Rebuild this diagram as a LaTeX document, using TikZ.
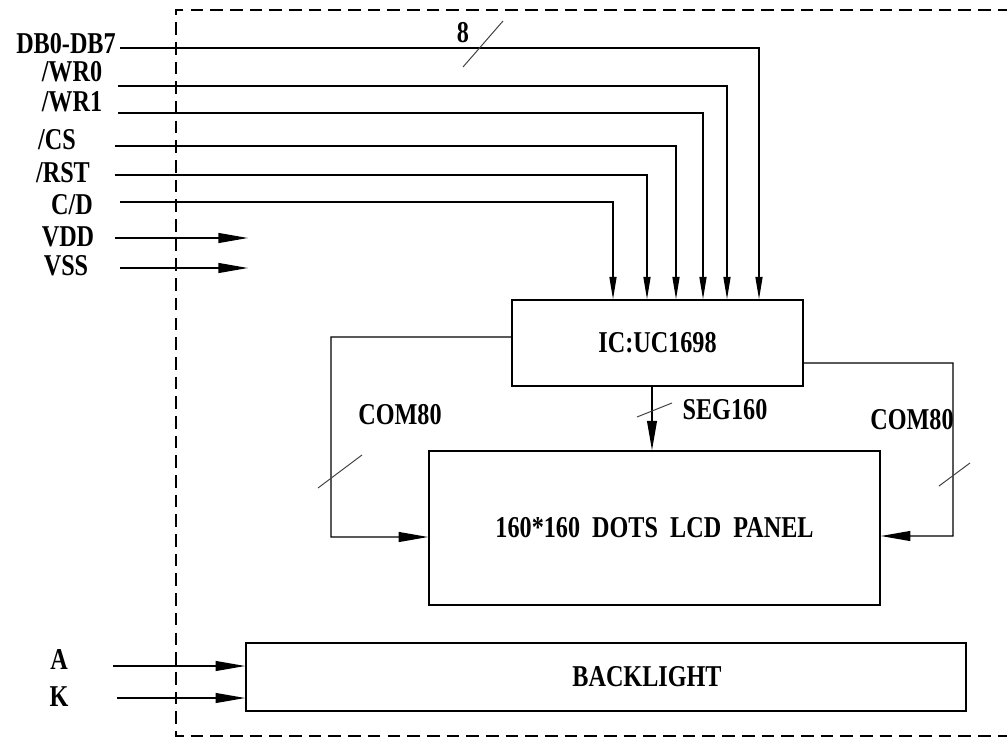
\documentclass[tikz,border=0pt]{standalone}
\usepackage{fontspec}
\newfontfamily\diagfont{Liberation Serif}[FakeStretch=0.8]
\usetikzlibrary{arrows.meta,positioning}

\tikzset{
  box/.style={draw, line width=1pt, inner sep=0pt},
  lbl/.style={font=\diagfont\bfseries\fontsize{21.5}{23}\selectfont, inner sep=0pt, text height=14pt, text depth=0pt},
  wire/.style={line width=1pt},
  sig/.style={wire, -{Triangle[length=16pt,width=5pt]}},
  pwr/.style={wire, -{Triangle[length=21pt,width=7pt]}},
  bus/.style={line width=0.7pt, black!75},
}

\begin{document}
\begin{tikzpicture}[x=0.025cm, y=-0.025cm]
    \useasboundingbox (0,0) rectangle (1007,737);

        % Module outline
        \draw[line width=0.9pt, dash pattern=on 9pt off 5pt] (1030,10) -- (176,10) -- (176,736) -- (1030,736);

        % Blocks
        \node[box, lbl, minimum width=7.275cm, minimum height=2.15cm] (ic) at (657.5,343) {IC:UC1698};
        \node[box, lbl, minimum width=11.275cm, minimum height=3.85cm] (lcd) at (654.5,528) {160*160\ \ DOTS\ \ LCD\ \ PANEL};
        \node[box, minimum width=18cm, minimum height=1.7cm] (bl) at (606,677) {};
        \node[lbl] (bl_text) at (647,677) {BACKLIGHT};

        % Pin labels
        \node[lbl] (l_db) at (66,44) {DB0-DB7};
        \node[lbl] (l_wr0) at (72,72) {/WR0};
        \node[lbl] (l_wr1) at (72,102) {/WR1};
        \node[lbl] (l_cs) at (57,140) {/CS};
        \node[lbl] (l_rst) at (63,173) {/RST};
        \node[lbl] (l_cd) at (72,205) {C/D};
        \node[lbl] (l_vdd) at (68,237) {VDD};
        \node[lbl] (l_vss) at (66,266) {VSS};
        \node[lbl] (l_a) at (59,660) {A};
        \node[lbl] (l_k) at (59,697) {K};

        % Bus widths
        \node[lbl] (w_db) at (463,33) {8};
        \node[lbl] (w_coml) at (400,415) {COM80};
        \node[lbl] (w_seg) at (725,410) {SEG160};
        \node[lbl] (w_comr) at (912,420) {COM80};

        % Wire ends and bends
        \coordinate (db) at (120,48);
        \coordinate (wr0) at (118,86);
        \coordinate (wr1) at (118,113);
        \coordinate (cs) at (115,146);
        \coordinate (rst) at (115,175);
        \coordinate (cd) at (120,202);
        \coordinate (vdd) at (115,238);
        \coordinate (vss) at (120,268);
        \coordinate (vdd_end) at (248,238);
        \coordinate (vss_end) at (248,268);
        \coordinate (a) at (113,666);
        \coordinate (k) at (117,698);

        \coordinate (t_db) at (759,48);
        \coordinate (t_wr0) at (727,86);
        \coordinate (t_wr1) at (703,113);
        \coordinate (t_cs) at (676,146);
        \coordinate (t_rst) at (647,175);
        \coordinate (t_cd) at (613,202);

        \coordinate (bend_l) at (331,337);
        \coordinate (bend_r) at (953,363);

        % Interface lines into the controller
        \draw[sig] (db) -- (t_db) -- (t_db |- ic.north);
        \draw[sig] (wr0) -- (t_wr0) -- (t_wr0 |- ic.north);
        \draw[sig] (wr1) -- (t_wr1) -- (t_wr1 |- ic.north);
        \draw[sig] (cs) -- (t_cs) -- (t_cs |- ic.north);
        \draw[sig] (rst) -- (t_rst) -- (t_rst |- ic.north);
        \draw[sig] (cd) -- (t_cd) -- (t_cd |- ic.north);

        % Supply
        \draw[pwr] (vdd) -- (vdd_end);
        \draw[pwr] (vss) -- (vss_end);

        % Controller to panel
        \draw[pwr] ([yshift=0.15cm]ic.west) -- (bend_l) |- ([yshift=-0.225cm]lcd.west);
        \draw[pwr] ([yshift=-0.5cm]ic.east) -- (bend_r) |- ([yshift=-0.2cm]lcd.east);
        \draw[pwr] (ic.south -| 652,0) -- (lcd.north -| 652,0);

        % Backlight
        \draw[pwr] (a) -- (a -| bl.west);
        \draw[pwr] (k) -- (k -| bl.west);

        % Bus slashes
        \draw[bus] (463,67) -- (503,21);
        \draw[bus] (318,488) -- (362,455);
        \draw[bus] (637,417) -- (672,403);
        \draw[bus] (939,486) -- (970,463);

\end{tikzpicture}
\end{document}
